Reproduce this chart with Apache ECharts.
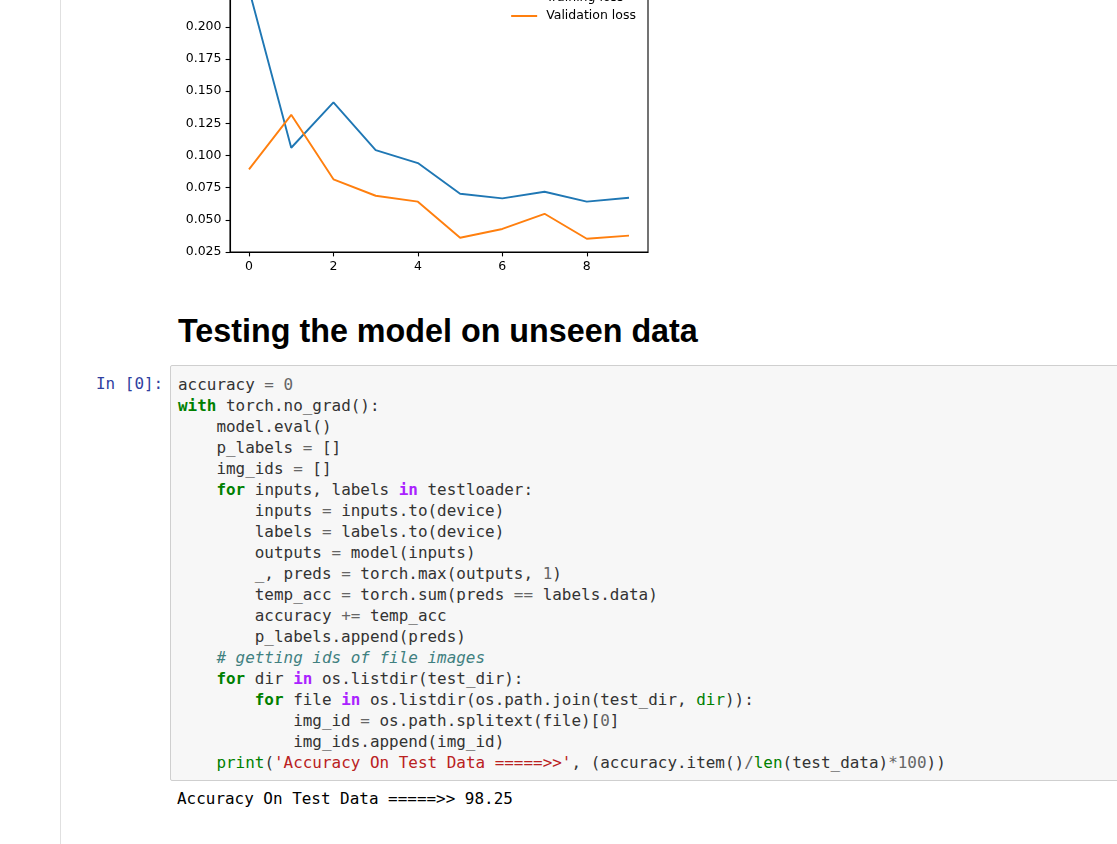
<!DOCTYPE html>
<html lang="en">
  <head>
    <meta charset="utf-8" />
    <title>Testing the model on unseen data</title>
    <script src="https://cdn.jsdelivr.net/npm/echarts@6.0.0/dist/echarts.min.js"></script>
    <style type="text/css">
    html, body {
      margin: 0;
      padding: 0;
      width: 1117px;
      height: 844px;
      overflow: hidden;
      background: #fff;
      position: relative;
    }
    #container-edge {
      position: absolute;
      left: 60px;
      top: 0;
      width: 0;
      height: 844px;
      border-left: 1px solid #e0e0e0;
    }
    #loss-chart {
      position: absolute;
      left: 160px;
      top: -40px;
      width: 500px;
      height: 340px;
    }
    h2 {
      position: absolute;
      left: 178px;
      top: 315px;
      margin: 0;
      font-family: "Liberation Sans", Arial, sans-serif;
      font-weight: bold;
      font-size: 32.3px;
      line-height: 1;
      color: #000;
      white-space: nowrap;
    }
    .mono {
      font-family: "DejaVu Sans Mono", monospace;
      font-size: 15.95px;
      line-height: 21px;
      white-space: pre;
      margin: 0;
    }
    .prompt {
      position: absolute;
      left: 96px;
      top: 373px;
      color: #303F9F;
    }
    .input-area {
      position: absolute;
      left: 170px;
      top: 365px;
      width: 1000px;
      height: 414px;
      border: 1px solid #cfcfcf;
      border-radius: 2px;
      background: #f7f7f7;
    }
    .code {
      position: absolute;
      left: 178px;
      top: 374px;
      color: #333;
      white-space: normal;
    }
    .code div {
      height: 21px;
      white-space: pre;
    }
    .output {
      position: absolute;
      left: 177px;
      top: 788px;
      color: #000;
    }
    .k { color: #008000; font-weight: bold; }
    .ow { color: #AA22FF; font-weight: bold; }
    .nb { color: #008000; }
    .s { color: #BA2121; }
    .c { color: #408080; font-style: italic; }
    .o { color: #666; }
    .mi { color: #666; }
    </style>
    <script type="text/javascript">
    // loss per epoch
    var epochs = [0, 1, 2, 3, 4, 5, 6, 7, 8, 9];
    var trainingLoss = [0.229, 0.1060, 0.1413, 0.1042, 0.0941, 0.0703, 0.0667, 0.0718, 0.0641, 0.0672];
    var validationLoss = [0.0892, 0.1316, 0.0815, 0.0687, 0.0641, 0.0361, 0.0429, 0.0547, 0.0353, 0.0377];
    var xTicks = [0, 2, 4, 6, 8];
    var yTicks = [0.025, 0.050, 0.075, 0.100, 0.125, 0.150, 0.175, 0.200, 0.225];

    var toPoints = list => epochs.map((e, i) => [e, list[i]]);

    window.addEventListener('load', function() {
      var chart = echarts.init(document.getElementById('loss-chart'), null, {renderer: 'canvas'});
      var tickFont = {
        color: '#000',
        fontFamily: 'DejaVu Sans',
        fontSize: 12.5
      };
      var option = {
        animation: false,
        grid: {
          left: 70,
          right: 12,
          top: 14,
          bottom: 48,
          show: true,
          borderColor: '#000',
          borderWidth: 1.1
        },
        legend: {
          orient: 'vertical',
          right: 19,
          top: 25.5,
          itemGap: 4.5,
          itemWidth: 26,
          itemHeight: 2,
          icon: 'rect',
          textStyle: {
            color: '#000',
            fontFamily: 'DejaVu Sans',
            fontSize: 12.5,
            lineHeight: 14,
            padding: [0, 0, 0, 4]
          },
          data: ['Training loss', 'Validation loss']
        },
        xAxis: {
          type: 'value',
          min: -0.45,
          max: 9.45,
          splitLine: {show: false},
          axisLine: {show: true, onZero: false, lineStyle: {color: '#000', width: 1.1}},
          axisTick: {show: true, length: 4.4, customValues: xTicks, lineStyle: {color: '#000', width: 1.1}},
          axisLabel: Object.assign({margin: 8.5, customValues: xTicks}, tickFont)
        },
        yAxis: {
          type: 'value',
          min: 0.025,
          max: 0.241,
          splitLine: {show: false},
          axisLine: {show: true, onZero: false, lineStyle: {color: '#000', width: 1.1}},
          axisTick: {show: true, length: 4.4, customValues: yTicks, lineStyle: {color: '#000', width: 1.1}},
          axisLabel: Object.assign({
            margin: 8.5,
            customValues: yTicks,
            formatter: v => v.toFixed(3)
          }, tickFont)
        },
        series: [
          {
            name: 'Training loss',
            type: 'line',
            symbol: 'none',
            color: '#1f77b4',
            lineStyle: {width: 1.9, color: '#1f77b4'},
            data: toPoints(trainingLoss)
          },
          {
            name: 'Validation loss',
            type: 'line',
            symbol: 'none',
            color: '#ff7f0e',
            lineStyle: {width: 1.9, color: '#ff7f0e'},
            data: toPoints(validationLoss)
          }
        ]
      };
      chart.setOption(option);
    });
    </script>
  </head>
<body>
  <div id="container-edge"></div>
  <div id="loss-chart"></div>

  <h2>Testing the model on unseen data</h2>

  <div class="prompt mono">In [0]:</div>
  <div class="input-area"></div>
  <div class="code mono">
<div><span>accuracy </span><span class="o">=</span><span> </span><span class="mi">0</span></div>
<div><span class="k">with</span><span> torch.no_grad():</span></div>
<div><span>    model.eval()</span></div>
<div><span>    p_labels </span><span class="o">=</span><span> []</span></div>
<div><span>    img_ids </span><span class="o">=</span><span> []</span></div>
<div><span>    </span><span class="k">for</span><span> inputs, labels </span><span class="ow">in</span><span> testloader:</span></div>
<div><span>        inputs </span><span class="o">=</span><span> inputs.to(device)</span></div>
<div><span>        labels </span><span class="o">=</span><span> labels.to(device)</span></div>
<div><span>        outputs </span><span class="o">=</span><span> model(inputs)</span></div>
<div><span>        _, preds </span><span class="o">=</span><span> torch.max(outputs, </span><span class="mi">1</span><span>)</span></div>
<div><span>        temp_acc </span><span class="o">=</span><span> torch.sum(preds </span><span class="o">==</span><span> labels.data)</span></div>
<div><span>        accuracy </span><span class="o">+=</span><span> temp_acc</span></div>
<div><span>        p_labels.append(preds)</span></div>
<div><span>    </span><span class="c"># getting ids of file images</span></div>
<div><span>    </span><span class="k">for</span><span> dir </span><span class="ow">in</span><span> os.listdir(test_dir):</span></div>
<div><span>        </span><span class="k">for</span><span> file </span><span class="ow">in</span><span> os.listdir(os.path.join(test_dir, </span><span class="nb">dir</span><span>)):</span></div>
<div><span>            img_id </span><span class="o">=</span><span> os.path.splitext(file)[</span><span class="mi">0</span><span>]</span></div>
<div><span>            img_ids.append(img_id)</span></div>
<div><span>    </span><span class="nb">print</span><span>(</span><span class="s">'Accuracy On Test Data =====&gt;&gt;'</span><span>, (accuracy.item()</span><span class="o">/</span><span class="nb">len</span><span>(test_data)</span><span class="o">*</span><span class="mi">100</span><span>))</span></div>
  </div>
  <div class="output mono">Accuracy On Test Data =====&gt;&gt; 98.25</div>
</body>
</html>
